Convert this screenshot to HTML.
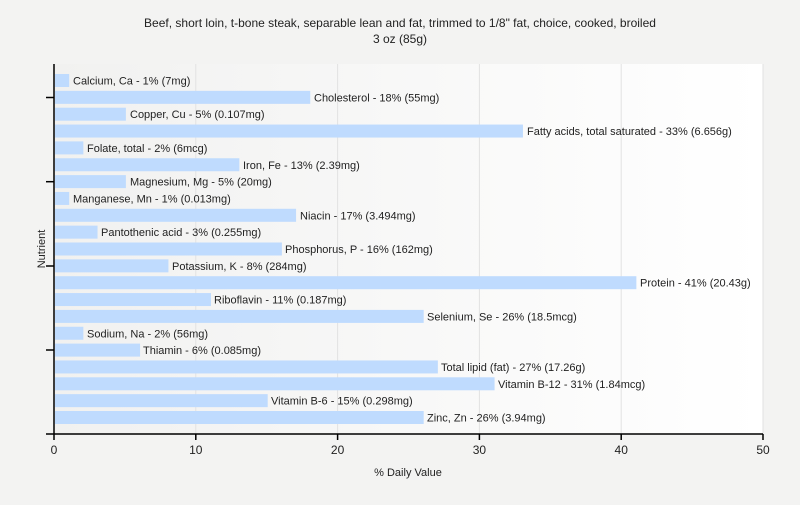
<!DOCTYPE html>
<html><head><style>
body{margin:0;background:#f3f3f2;}
svg text{font-family:"Liberation Sans",sans-serif;}
</style></head><body>
<svg width="800" height="500" xmlns="http://www.w3.org/2000/svg">
<defs><linearGradient id="g" x1="0" x2="1"><stop offset="0" stop-color="#f1f1f0"/><stop offset="1" stop-color="#ffffff"/></linearGradient></defs>
<rect width="800" height="500" fill="#f3f3f2"/>
<rect x="54" y="64" width="709" height="370" fill="url(#g)"/>
<g stroke="#e2e2e2" stroke-width="1">
<line x1="195.8" y1="64" x2="195.8" y2="434"/><line x1="337.6" y1="64" x2="337.6" y2="434"/><line x1="479.4" y1="64" x2="479.4" y2="434"/><line x1="621.2" y1="64" x2="621.2" y2="434"/><line x1="763" y1="64" x2="763" y2="434"/>
</g>
<text x="400" y="27" font-size="12" text-anchor="middle" fill="#222">Beef, short loin, t-bone steak, separable lean and fat, trimmed to 1/8" fat, choice, cooked, broiled</text>
<text x="400" y="43" font-size="12" text-anchor="middle" fill="#222">3 oz (85g)</text>
<g fill="#bfdbfe">
<rect x="55" y="74" width="14.18" height="13"/>
<rect x="55" y="90.85" width="255.24" height="13"/>
<rect x="55" y="107.7" width="70.9" height="13"/>
<rect x="55" y="124.55" width="467.94" height="13"/>
<rect x="55" y="141.4" width="28.36" height="13"/>
<rect x="55" y="158.25" width="184.34" height="13"/>
<rect x="55" y="175.1" width="70.9" height="13"/>
<rect x="55" y="191.95" width="14.18" height="13"/>
<rect x="55" y="208.8" width="241.06" height="13"/>
<rect x="55" y="225.65" width="42.54" height="13"/>
<rect x="55" y="242.5" width="226.88" height="13"/>
<rect x="55" y="259.35" width="113.44" height="13"/>
<rect x="55" y="276.2" width="581.38" height="13"/>
<rect x="55" y="293.05" width="155.98" height="13"/>
<rect x="55" y="309.9" width="368.68" height="13"/>
<rect x="55" y="326.75" width="28.36" height="13"/>
<rect x="55" y="343.6" width="85.08" height="13"/>
<rect x="55" y="360.45" width="382.86" height="13"/>
<rect x="55" y="377.3" width="439.58" height="13"/>
<rect x="55" y="394.15" width="212.7" height="13"/>
<rect x="55" y="411" width="368.68" height="13"/>
</g>
<g font-size="11" fill="#222">
<text x="73" y="84.5">Calcium, Ca - 1% (7mg)</text>
<text x="314" y="101.35">Cholesterol - 18% (55mg)</text>
<text x="130" y="118.2">Copper, Cu - 5% (0.107mg)</text>
<text x="527" y="135.05">Fatty acids, total saturated - 33% (6.656g)</text>
<text x="87" y="151.9">Folate, total - 2% (6mcg)</text>
<text x="243" y="168.75">Iron, Fe - 13% (2.39mg)</text>
<text x="130" y="185.6">Magnesium, Mg - 5% (20mg)</text>
<text x="73" y="202.45">Manganese, Mn - 1% (0.013mg)</text>
<text x="300" y="219.3">Niacin - 17% (3.494mg)</text>
<text x="101" y="236.15">Pantothenic acid - 3% (0.255mg)</text>
<text x="285" y="253">Phosphorus, P - 16% (162mg)</text>
<text x="172" y="269.85">Potassium, K - 8% (284mg)</text>
<text x="640" y="286.7">Protein - 41% (20.43g)</text>
<text x="214" y="303.55">Riboflavin - 11% (0.187mg)</text>
<text x="427" y="320.4">Selenium, Se - 26% (18.5mcg)</text>
<text x="87" y="337.25">Sodium, Na - 2% (56mg)</text>
<text x="143" y="354.1">Thiamin - 6% (0.085mg)</text>
<text x="441" y="370.95">Total lipid (fat) - 27% (17.26g)</text>
<text x="498" y="387.8">Vitamin B-12 - 31% (1.84mcg)</text>
<text x="271" y="404.65">Vitamin B-6 - 15% (0.298mg)</text>
<text x="427" y="421.5">Zinc, Zn - 26% (3.94mg)</text>
</g>
<g stroke="#000" stroke-width="1.5">
<line x1="54" y1="64" x2="54" y2="434"/><line x1="46" y1="434" x2="763" y2="434"/>
<line x1="46" y1="97.5" x2="54" y2="97.5"/><line x1="46" y1="181.7" x2="54" y2="181.7"/><line x1="46" y1="266" x2="54" y2="266"/><line x1="46" y1="350" x2="54" y2="350"/>
<line x1="54" y1="434" x2="54" y2="440"/><line x1="195.8" y1="434" x2="195.8" y2="440"/><line x1="337.6" y1="434" x2="337.6" y2="440"/><line x1="479.4" y1="434" x2="479.4" y2="440"/><line x1="621.2" y1="434" x2="621.2" y2="440"/><line x1="763" y1="434" x2="763" y2="440"/>
</g>
<g font-size="12" text-anchor="middle" fill="#222">
<text x="54" y="454">0</text><text x="195.8" y="454">10</text><text x="337.6" y="454">20</text><text x="479.4" y="454">30</text><text x="621.2" y="454">40</text><text x="763" y="454">50</text>
<text x="408" y="476" font-size="11">% Daily Value</text>
<text transform="translate(45,249) rotate(-90)" font-size="11">Nutrient</text>
</g>
</svg>
</body></html>
